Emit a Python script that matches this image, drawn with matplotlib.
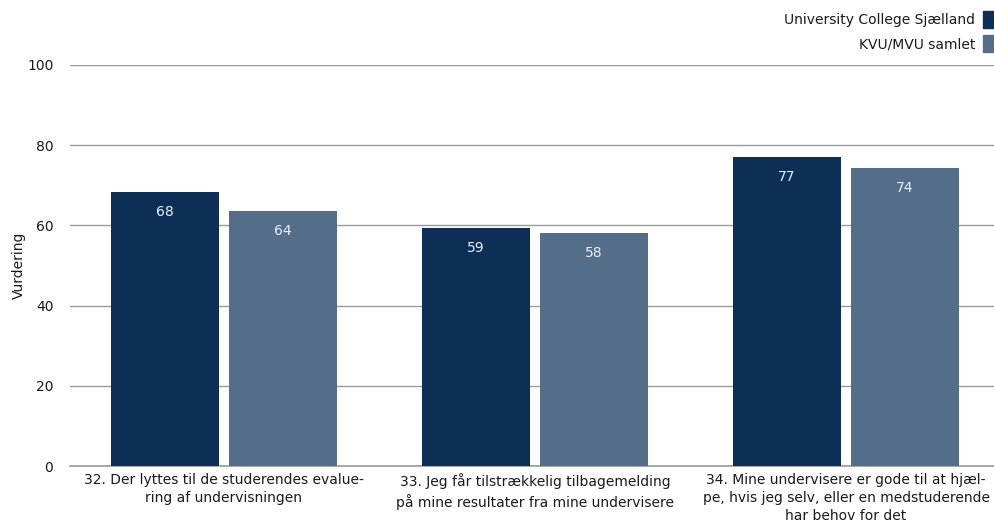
import matplotlib
matplotlib.use('Agg')
import matplotlib.pyplot as plt
from matplotlib.patches import Rectangle
import numpy as np

categories = ['32. Der lyttes til de studerendes evalue-\nring af undervisningen',
              '33. Jeg får tilstrækkelig tilbagemelding\npå mine resultater fra mine undervisere',
              '34. Mine undervisere er gode til at hjæl-\npe, hvis jeg selv, eller en medstuderende\nhar behov for det']
series_names = ['University College Sjælland', 'KVU/MVU samlet']
ucs_values = [68.3, 59.4, 77.1]
kvu_values = [63.6, 58.1, 74.3]
ucs_labels = ['68', '59', '77']
kvu_labels = ['64', '58', '74']
yticks = [0, 20, 40, 60, 80, 100]

colors = ['#0d2f55', '#546e8a']
fs = 10

plt.rcParams['font.family'] = 'DejaVu Sans'
fig = plt.figure(figsize=(9.95, 5.29), dpi=100)
ax = fig.add_axes([70/995, 63/529, 925/995, (466-65)/529])

x = np.arange(len(categories))
w = 0.347
off = 0.19
for vals, labs, dx, c in [(ucs_values, ucs_labels, -off, colors[0]), (kvu_values, kvu_labels, off, colors[1])]:
    bars = ax.bar(x + dx, vals, w, color=c, zorder=3)
    for b, lab in zip(bars, labs):
        ax.text(b.get_x() + b.get_width()/2, b.get_height() - 5, lab,
                ha='center', va='center', color='#e8eef5', fontsize=fs, zorder=4)

ax.set_xlim(-0.495, 2.479)
ax.set_ylim(0, 100)
ax.set_yticks(yticks)
ax.yaxis.grid(True, color='#9a9a9a', linewidth=1, zorder=0)
ax.axhline(0, color='#9a9a9a', linewidth=1.2, zorder=2, clip_on=False)
ax.set_axisbelow(True)
for s in ax.spines.values():
    s.set_visible(False)
ax.tick_params(axis='both', length=0, labelsize=fs, colors='#1a1a1a')
ax.tick_params(axis='y', pad=12)
ax.set_xticks(x)
ax.set_xticklabels(categories, linespacing=1.38)
ax.tick_params(axis='x', pad=5)
ax.set_ylabel('Vurdering', fontsize=fs, color='#1a1a1a', labelpad=1)

# legend in the top right corner
for i, name in enumerate(series_names):
    yc = 1 - (20 + 24*i)/529
    fig.text(975/995, yc, name, ha='right', va='center', fontsize=fs, color='#1a1a1a')
    fig.patches.append(Rectangle((983/995, yc - 8/529), 12/995, 17/529,
                                 transform=fig.transFigure, color=colors[i], figure=fig))

fig.savefig('out.png', dpi=100)
